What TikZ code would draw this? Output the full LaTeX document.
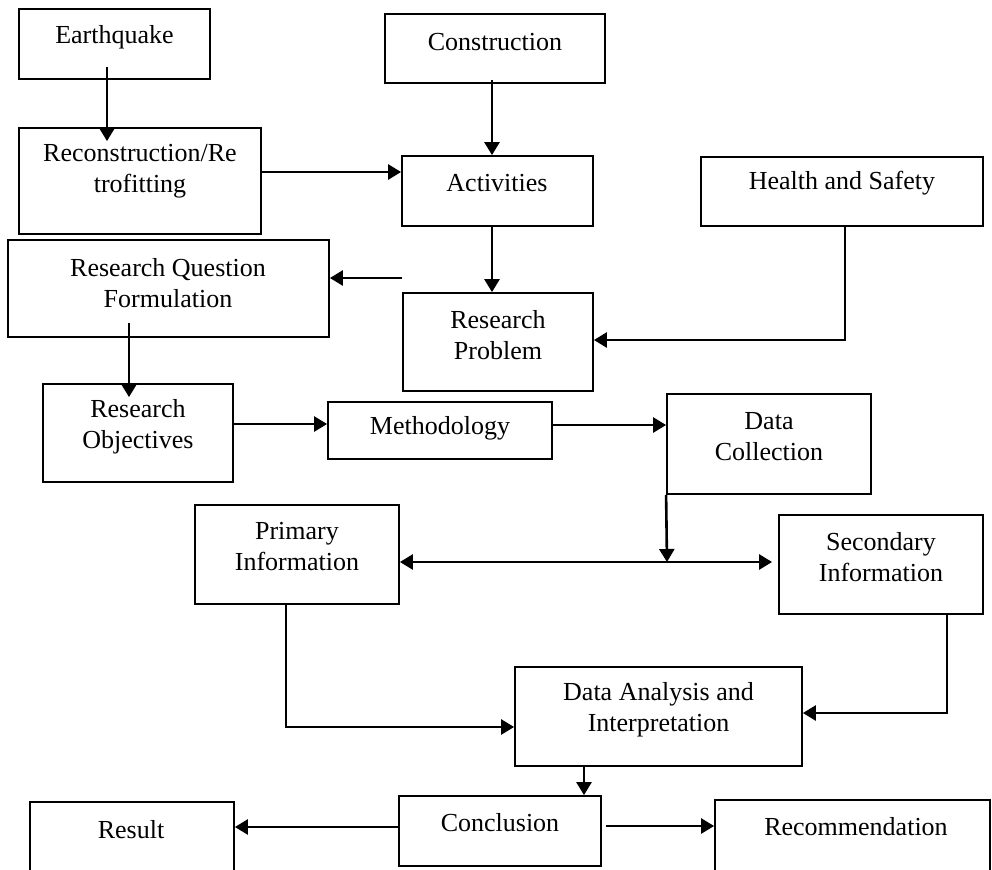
\documentclass[tikz,border=0pt]{standalone}
\usepackage{fontspec}
\setmainfont{Liberation Serif}
\usetikzlibrary{arrows.meta,fit}
\begin{document}
\begin{tikzpicture}[x=0.5pt,y=-0.5pt,
  box/.style={draw, line width=0.9pt, inner sep=0pt},
  txt/.style={font=\fontsize{13pt}{15.5pt}\selectfont, align=center, inner sep=0pt},
  tip/.tip={Triangle[length=6.5pt,width=7.5pt]},
  arr/.style={line width=1.3pt, -tip},
  dbl/.style={line width=1.3pt, tip-tip},
  ln/.style={line width=1.3pt}]
\clip (0,0) rectangle (992,869);
\fill[white] (0,0) rectangle (992,869);
% boxes
\node[box, fit={(19,9) (210,79)}] (eq) {};
\node[box, fit={(385,14) (605,83)}] (con) {};
\node[box, fit={(19,128) (261,234)}] (rec) {};
\node[box, fit={(402,156) (593,226)}] (act) {};
\node[box, fit={(701,157) (983,226)}] (hs) {};
\node[box, fit={(8,240) (329,337)}] (rqf) {};
\node[box, fit={(403,293) (593,391)}] (rp) {};
\node[box, fit={(43,384) (233,482)}] (ro) {};
\node[box, fit={(328,402) (552,459)}] (meth) {};
\node[box, fit={(667,394) (871,494)}] (dc) {};
\node[box, fit={(195,505) (399,604)}] (pri) {};
\node[box, fit={(779,515) (983,614)}] (sec) {};
\node[box, fit={(515,667) (802,766)}] (da) {};
\node[box, fit={(30,802) (234,905)}] (res) {};
\node[box, fit={(399,796) (601,866)}] (conc) {};
\node[box, fit={(715,800) (990,905)}] (recm) {};
% texts
\node[txt] (eqt) at (114.5,37) {Earthquake};
\node[txt] (cont) at (495,42) {Construction};
\node[txt] (rect) at (140,171) {Reconstruction/Re\\trofitting};
\node[txt] (actt) at (497,183) {Activities};
\node[txt] (hst) at (842,183) {Health and Safety};
\node[txt] (rqft) at (168,283) {Research Question\\Formulation};
\node[txt] (rpt) at (498,335) {Research\\Problem};
\node[txt] (rot) at (138,427) {Research\\Objectives};
\node[txt] (metht) at (440,428) {Methodology};
\node[txt] (dct) at (769,437) {Data\\Collection};
\node[txt] (prit) at (297,547) {Primary\\Information};
\node[txt] (sect) at (881,557) {Secondary\\Information};
\node[txt] (dat) at (658.5,710) {Data Analysis and\\Interpretation};
\node[txt] (rest) at (131,830) {Result};
\node[txt] (conct) at (500,823) {Conclusion};
\node[txt] (recmt) at (856,827) {Recommendation};
% helper coordinates
\coordinate (fr) at (402,278);
\coordinate (hsb) at (845,340);
\coordinate (j) at (667,562);
\coordinate (prb) at (286,727);
\coordinate (seb) at (947,713);
% connectors
\draw[arr, shorten <=-6.5pt, shorten >=-7pt] (eq.south -| 107,0) -- (rec.north -| 107,0);
\draw[arr, shorten <=-2pt] (con.south -| 492,0) -- (act.north -| 492,0);
\draw[arr] (rec.east |- 0,172) -- (act.west |- 0,172);
\draw[arr] (act.south -| 492,0) -- (rp.north -| 492,0);
\draw[arr] (hs.south -| hsb) -- (hsb) -- (rp.east |- hsb);
\draw[arr] (fr) -- (rqf.east |- fr);
\draw[arr, shorten <=-7.5pt, shorten >=-7pt] (rqf.south -| 129,0) -- (ro.north -| 129,0);
\draw[arr] (ro.east |- 0,424) -- (meth.west |- 0,424);
\draw[arr] (meth.east |- 0,425) -- (dc.west |- 0,425);
\draw[arr] (dc.south west) -- (j);
\draw[dbl, shorten >=3pt] (pri.east |- j) -- (sec.west |- j);
\draw[arr] (pri.south -| prb) -- (prb) -- (da.west |- prb);
\draw[arr] (sec.south -| seb) -- (seb) -- (da.east |- seb);
\draw[arr] (da.south -| 584,0) -- (conc.north -| 584,0);
\draw[arr] (conc.west |- 0,827) -- (res.east |- 0,827);
\draw[arr, shorten <=2pt] (conc.east |- 0,826) -- (recm.west |- 0,826);
\end{tikzpicture}
\end{document}
